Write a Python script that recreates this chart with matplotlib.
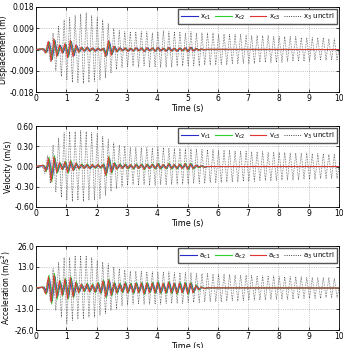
import numpy as np
import matplotlib
matplotlib.use("Agg")
import matplotlib.pyplot as plt
from matplotlib.ticker import FormatStrFormatter

# uncontrolled response: one peak per half cycle, starting at 0.2 s
unc_t0, unc_dt = 0.2, 0.091
x3_unctrl_mm = [0.5, -1.5, 3, -5, 7, -9, 10, -11.5, 12.5,
                -13, 13.5, -14, 14.5, -14, 15, -14.5, 15.5, -14, 14.5, -13.5,
                13.5, -13, 12.5, -12, 11, -10, 9, -8.5, 8, -7.5, 7.5,
                -7.5, 7.5, -7, 7.5, -7.5, 7.5, -7, 7.5, -7.5, 7, -7.5,
                7.5, -7.5, 8, -7.5, 7.5, -7.5, 7.5, -7, 7.5, -7, 7,
                -7, 7.5, -7, 7, -7, 7, -6.5, 7, -6.5, 7, -6.5,
                6.5, -6.5, 6.5, -6.5, 6.5, -6, 6.5, -6, 6.5, -6, 6,
                -6, 6, -6, 6, -5.5, 6, -5.5, 6, -5.5, 5.5, -5.5,
                5.5, -5.5, 5.5, -5, 5.5, -5, 5.5, -5, 5, -5, 5,
                -5, 5, -4.5, 5, -4.5, 5, -4.5, 4.5, -4.5, 4.5, -4.5]
v3_unctrl = [0.02, -0.1, 0.16, -0.25, 0.32, -0.38, 0.42, -0.46, 0.5,
             -0.5, 0.52, -0.52, 0.52, -0.5, 0.53, -0.52, 0.52, -0.5, 0.5, -0.5,
             0.49, -0.48, 0.45, -0.43, 0.4, -0.37, 0.35, -0.33, 0.32, -0.3, 0.3,
             -0.28, 0.28, -0.27, 0.28, -0.28, 0.28, -0.27, 0.28, -0.28, 0.27, -0.28,
             0.28, -0.27, 0.28, -0.27, 0.27, -0.27, 0.27, -0.26, 0.27, -0.26, 0.26,
             -0.26, 0.26, -0.25, 0.26, -0.25, 0.25, -0.25, 0.25, -0.24, 0.25, -0.24,
             0.24, -0.24, 0.24, -0.23, 0.24, -0.23, 0.23, -0.23, 0.23, -0.22, 0.23,
             -0.22, 0.22, -0.22, 0.22, -0.21, 0.22, -0.21, 0.21, -0.21, 0.21, -0.21,
             0.21, -0.2, 0.21, -0.2, 0.2, -0.2, 0.2, -0.2, 0.2, -0.19, 0.2,
             -0.19, 0.19, -0.19, 0.19, -0.18, 0.19, -0.18, 0.18, -0.18, 0.18, -0.18]
a3_unctrl = [1, -3, 5, -8, 12, -14, 16, -18, 19,
             -22, 19, -20, 20, -19, 20, -19, 20, -18, 19, -18,
             17, -17, 16, -16, 15, -14, 13, -13, 12, -11, 11,
             -10.5, 10.5, -10, 10.5, -10, 10.5, -10, 10, -10, 10, -10,
             10, -10, 10, -9.5, 10, -9.5, 9.5, -9.5, 9.5, -9.5, 9.5,
             -9, 9.5, -9, 9, -9, 9, -8.5, 9, -8.5, 8.5, -8.5,
             8.5, -8.5, 8.5, -8, 8.5, -8, 8, -8, 8, -8, 8,
             -7.5, 8, -7.5, 7.5, -7.5, 7.5, -7.5, 7.5, -7, 7.5, -7,
             7, -7, 7, -7, 7, -7, 7, -6.5, 7, -6.5, 6.5,
             -6.5, 6.5, -6.5, 6.5, -6.5, 6.5, -6, 6.5, -6, 6, -6]

# controlled responses: peaks from their start time, then at rest until 10 s
ctl_dt = 0.09
ctl_t0 = [0.27, 0.25, 0.23]  # c1, c2, c3
x_c1_mm = [0.2, -1.2, 3.0, -4.2, 3.8, -2.6, 1.8, -1.4, 2.2, -3.0, 3.4, -2.6, 1.6, -1.0, 0.8,
           -0.7, 0.9, -0.6, 0.6, -0.7, 0.5, -0.4, 0.5, -2.6, 3.2, -2.0, 1.2, -0.8, 0.7, -0.5,
           0.6, -0.7, 0.5, -0.6, 0.7, -0.5, 0.6, -0.8, 0.7, -0.5, 0.6, -0.7, 0.8, -0.6, 0.5,
           -0.7, 0.8, -0.6, 0.5, -0.7, 0.6, -0.5, 0.7, -0.8, 0.9, -0.6, 0.4, -0.3, 0.2, -0.1, 0.05]
x_c2_mm = [0.3, -1.4, 3.2, -4.6, 4.2, -2.8, 1.6, -1.2, 2.4, -3.2, 3.6, -2.4, 1.4, -1.1, 0.9,
           -0.6, 0.8, -0.7, 0.5, -0.6, 0.6, -0.5, 0.6, -2.8, 3.4, -2.2, 1.3, -0.9, 0.6, -0.6,
           0.7, -0.6, 0.6, -0.7, 0.6, -0.6, 0.7, -0.7, 0.6, -0.6, 0.7, -0.8, 0.7, -0.5, 0.6,
           -0.6, 0.7, -0.7, 0.6, -0.6, 0.7, -0.6, 0.6, -0.7, 0.8, -0.5, 0.4, -0.3, 0.2, -0.1, 0.05]
x_c3_mm = [0.3, -1.5, 3.5, -5.0, 4.5, -3.0, 2.0, -1.5, 2.5, -3.5, 4.0, -3.0, 2.0, -1.2, 1.0,
           -0.8, 1.0, -0.8, 0.7, -0.8, 0.6, -0.5, 0.5, -3.0, 3.8, -2.5, 1.5, -1.0, 0.8, -0.6,
           0.7, -0.8, 0.6, -0.7, 0.8, -0.6, 0.7, -0.9, 0.8, -0.6, 0.7, -0.8, 0.9, -0.7, 0.6,
           -0.8, 0.9, -0.7, 0.6, -0.8, 0.7, -0.6, 0.8, -0.9, 1.0, -0.7, 0.5, -0.4, 0.3, -0.2, 0.1]
v_c1 = [0.01, -0.05, 0.10, -0.18, 0.12, -0.08, 0.05, -0.04, 0.06, -0.08, 0.07, -0.05, 0.04, -0.03, 0.03,
        -0.02, 0.03, -0.03, 0.02, -0.02, 0.02, -0.02, 0.03, -0.10, 0.12, -0.08, 0.05, -0.03, 0.03, -0.02,
        0.03, -0.03, 0.02, -0.03, 0.03, -0.02, 0.03, -0.03, 0.03, -0.02, 0.03, -0.03, 0.04, -0.03, 0.02,
        -0.03, 0.04, -0.03, 0.02, -0.03, 0.03, -0.02, 0.03, -0.04, 0.04, -0.03, 0.02, -0.01, 0.01, -0.01, 0.0]
v_c2 = [0.02, -0.08, 0.14, -0.23, 0.16, -0.10, 0.06, -0.05, 0.08, -0.10, 0.09, -0.06, 0.05, -0.04, 0.04,
        -0.03, 0.04, -0.03, 0.03, -0.03, 0.03, -0.03, 0.04, -0.14, 0.15, -0.10, 0.06, -0.04, 0.04, -0.03,
        0.04, -0.04, 0.03, -0.04, 0.04, -0.03, 0.04, -0.05, 0.04, -0.03, 0.04, -0.04, 0.05, -0.04, 0.03,
        -0.04, 0.05, -0.04, 0.03, -0.04, 0.04, -0.03, 0.05, -0.05, 0.05, -0.04, 0.02, -0.02, 0.01, -0.01, 0.0]
v_c3 = [0.02, -0.07, 0.12, -0.22, 0.14, -0.09, 0.06, -0.05, 0.07, -0.09, 0.08, -0.06, 0.05, -0.03, 0.03,
        -0.03, 0.03, -0.03, 0.03, -0.02, 0.03, -0.02, 0.03, -0.13, 0.14, -0.09, 0.05, -0.04, 0.03, -0.03,
        0.03, -0.03, 0.03, -0.03, 0.03, -0.03, 0.03, -0.04, 0.03, -0.03, 0.03, -0.03, 0.04, -0.03, 0.03,
        -0.03, 0.04, -0.03, 0.03, -0.03, 0.03, -0.03, 0.04, -0.04, 0.04, -0.03, 0.02, -0.01, 0.01, -0.01, 0.0]
a_c1 = [0.5, -3, 6, -8, 7, -5, 4, -4, 5, -6, 6, -5, 3, -2.5, 2,
        -2, 2.5, -2, 2, -2.5, 3, -3, 4, -5, 4.5, -4, 3, -3, 2.5, -2.5,
        3, -2.5, 2.5, -3, 3, -2.5, 3, -3.5, 3, -2.5, 3, -3, 3.5, -3, 2.5,
        -3, 3.5, -3, 2.5, -3, 3, -2.5, 3, -3.5, 3, -2.5, 1.5, -1, 0.5, -0.3, 0.1]
a_c2 = [0.5, -4, 8, -10, 9, -7, 5, -5, 6, -7, 7, -6, 4, -3, 2.5,
        -2.5, 3, -2.5, 2.5, -3, 3.5, -3.5, 5, -6, 5.5, -5, 3.5, -3.5, 3, -3,
        3.5, -3, 3, -3.5, 3.5, -3, 3.5, -4, 3.5, -3, 3.5, -3.5, 4, -3.5, 3,
        -3.5, 4, -3.5, 3, -4, 3.5, -3, 3.5, -4, 3.5, -3, 2, -1.5, 0.8, -0.4, 0.1]
a_c3 = [0.5, -3.5, 7, -9, 8, -6, 4.5, -4.5, 5.5, -6.5, 6.5, -5.5, 3.5, -3, 2.5,
        -2, 2.5, -2.5, 2, -2.5, 3, -3, 4.5, -5.5, 5, -4.5, 3, -3, 2.5, -2.5,
        3, -3, 2.5, -3, 3, -3, 3, -3.5, 3, -3, 3, -3, 3.5, -3, 3,
        -3, 3.5, -3, 3, -3.5, 3, -3, 3, -3.5, 3, -3, 1.5, -1, 0.6, -0.3, 0.1]


def with_rest(peaks, t0, dt):
    # flat before the first peak and after the last one, up to 10 s
    t = np.concatenate(([0.0], t0 + dt * np.arange(len(peaks)), [10.0]))
    y = np.concatenate(([0.0], peaks, [0.0]))
    return t, y


panels = [
    ("Displacement (m)", np.array(x3_unctrl_mm) / 1000,
     [np.array(x_c1_mm) / 1000, np.array(x_c2_mm) / 1000, np.array(x_c3_mm) / 1000],
     0.018, 0.009, "%.3f", "x"),
    ("Velocity (m/s)", v3_unctrl, [v_c1, v_c2, v_c3], 0.60, 0.30, "%.2f", "v"),
    ("Acceleration (m/s$^2$)", a3_unctrl, [a_c1, a_c2, a_c3], 26.0, 13.0, "%.1f", "a"),
]

colors = ["#2a2ac8", "#2ed22e", "#e03434"]
unc_color = "#444444"
dots = (0, (1, 1.3))
plt.rcParams["font.family"] = "DejaVu Sans"
fig = plt.figure(figsize=(3.43, 3.48), dpi=100)
W, H = 343, 348
boxes = [(7, 92), (126, 207), (246, 330)]

for (ylabel, unc, ctl, lim, step, fmt, sym), (top, bot) in zip(panels, boxes):
    ax = fig.add_axes([36 / W, 1 - bot / H, 303 / W, (bot - top) / H])
    t, y = with_rest(unc, unc_t0, unc_dt)
    ax.plot(t, y, color=unc_color, lw=0.5, ls=dots, zorder=2)
    for i, s in enumerate(ctl):
        tc, yc = with_rest(s, ctl_t0[i], ctl_dt)
        ax.plot(tc, yc, color=colors[i], lw=0.7, zorder=3)
    handles = [plt.Line2D([], [], color=c, lw=0.8) for c in colors]
    handles.append(plt.Line2D([], [], color=unc_color, lw=0.7, ls=dots))
    labels = [sym + r"$_{\rm c1}$", sym + r"$_{\rm c2}$", sym + r"$_{\rm c3}$", sym + r"$_3$ unctrl"]
    ax.legend(handles, labels, loc="upper right", ncol=4, fontsize=5, handlelength=2.4,
              columnspacing=0.6, handletextpad=0.3, borderpad=0.35, fancybox=False,
              edgecolor="#555555", framealpha=1, borderaxespad=0.3)
    ax.set_xlim(0, 10)
    ax.set_ylim(-lim, lim)
    ax.set_xticks(range(11))
    ax.set_yticks([-lim, -step, 0, step, lim])
    ax.yaxis.set_major_formatter(FormatStrFormatter(fmt))
    ax.tick_params(labelsize=5.5, direction="in", length=2, width=0.5, pad=1.5, top=True, right=True)
    ax.grid(True, ls=":", lw=0.5, color="#999999")
    ax.set_xlabel("Time (s)", fontsize=5.8, labelpad=0.5)
    ax.set_ylabel(ylabel, fontsize=5.5, labelpad=1)
    for sp in ax.spines.values():
        sp.set_linewidth(0.6)

fig.savefig("out.png", dpi=100)
